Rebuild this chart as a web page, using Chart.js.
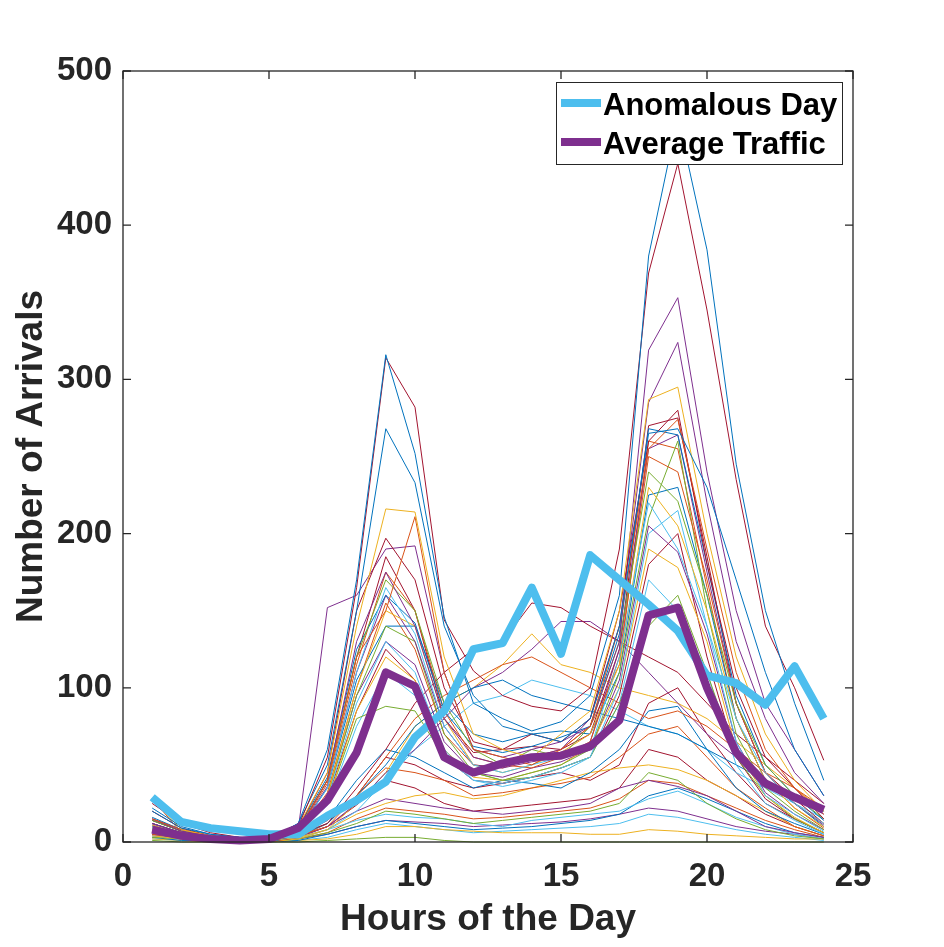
<!DOCTYPE html>
<html>
<head>
<meta charset="utf-8">
<script src="https://cdn.jsdelivr.net/npm/chart.js@4/dist/chart.umd.min.js"></script>
<style>
  body { margin: 0; background: #fff; }
  #wrap { width: 944px; height: 947px; }
</style>
</head>
<body>
<div id="wrap"><canvas id="myChart" width="944" height="947"></canvas></div>
<script>
const hours = [1, 2, 3, 4, 5, 6, 7, 8, 9, 10, 11, 12, 13, 14, 15, 16, 17, 18, 19, 20, 21, 22, 23, 24];

const anomalousDay = [29, 13, 9, 7, 5, 5, 17, 27, 39, 68, 85, 125, 129, 165, 122, 186, 170, 154, 137, 108, 103, 89, 114, 80];
const averageTraffic = [8, 4, 2, 1, 2, 9, 27, 58, 110, 101, 55, 45, 51, 55, 56, 62, 79, 147, 152, 100, 58, 38, 29, 21];

// one row per observed day
const dailyArrivals = [
    [22, 10, 5, 3, 2, 12, 60, 170, 316, 252, 146, 90, 80, 72, 78, 95, 160, 380, 470, 384, 245, 150, 90, 40],
    [25, 12, 6, 3, 2, 10, 55, 165, 314, 282, 144, 111, 95, 88, 85, 100, 190, 369, 440, 345, 235, 140, 100, 53],
    [20, 9, 5, 3, 2, 12, 50, 150, 268, 233, 140, 95, 75, 70, 65, 80, 140, 265, 268, 230, 170, 110, 60, 30],
    [28, 8, 4, 2, 1, 10, 45, 140, 216, 214, 120, 70, 60, 55, 70, 85, 150, 287, 295, 200, 120, 70, 40, 20],
    [15, 8, 4, 2, 1, 8, 40, 120, 150, 211, 110, 60, 55, 50, 60, 75, 140, 255, 274, 190, 110, 60, 35, 18],
    [20, 9, 4, 2, 1, 9, 45, 150, 197, 170, 100, 65, 60, 70, 65, 80, 150, 260, 280, 180, 100, 55, 35, 15],
    [15, 7, 4, 2, 1, 8, 152, 160, 190, 192, 110, 60, 55, 60, 65, 75, 130, 319, 353, 240, 150, 90, 60, 30],
    [12, 6, 3, 2, 1, 7, 40, 130, 175, 140, 80, 55, 50, 55, 60, 80, 140, 285, 324, 220, 130, 80, 45, 25],
    [14, 7, 3, 2, 1, 8, 40, 120, 170, 150, 90, 60, 50, 60, 55, 75, 130, 240, 221, 160, 90, 50, 30, 15],
    [10, 5, 3, 2, 1, 7, 35, 110, 165, 135, 75, 50, 45, 50, 55, 60, 120, 220, 190, 140, 80, 45, 25, 12],
    [16, 8, 4, 2, 1, 9, 42, 125, 160, 142, 85, 62, 58, 62, 68, 75, 135, 268, 264, 180, 95, 50, 30, 14],
    [28, 6, 3, 1, 1, 7, 38, 115, 175, 150, 85, 55, 50, 48, 55, 65, 120, 250, 240, 170, 90, 45, 25, 12],
    [11, 5, 3, 1, 1, 6, 30, 100, 150, 140, 80, 50, 45, 50, 58, 70, 115, 230, 205, 150, 80, 40, 22, 10],
    [12, 6, 3, 2, 1, 7, 36, 110, 160, 130, 75, 50, 48, 52, 55, 65, 125, 255, 264, 175, 90, 45, 25, 11],
    [10, 5, 2, 1, 1, 6, 30, 95, 140, 130, 70, 45, 40, 45, 50, 60, 110, 210, 260, 150, 70, 35, 20, 8],
    [9, 4, 2, 1, 1, 5, 28, 90, 130, 110, 60, 40, 38, 42, 48, 55, 100, 200, 215, 140, 65, 30, 18, 7],
    [14, 7, 3, 2, 1, 8, 40, 120, 185, 150, 80, 58, 60, 62, 60, 70, 125, 270, 275, 185, 90, 45, 28, 12],
    [12, 6, 3, 1, 1, 7, 35, 105, 140, 140, 90, 70, 65, 70, 72, 70, 110, 225, 230, 160, 80, 40, 25, 10],
    [10, 5, 2, 1, 1, 6, 32, 100, 155, 125, 70, 50, 48, 55, 60, 75, 115, 260, 255, 165, 80, 40, 22, 9],
    [8, 4, 2, 1, 1, 5, 25, 85, 120, 105, 60, 42, 40, 45, 50, 62, 100, 190, 178, 130, 60, 30, 16, 6],
    [11, 5, 3, 1, 1, 6, 30, 95, 130, 115, 65, 45, 42, 48, 52, 60, 105, 205, 188, 135, 65, 32, 18, 8],
    [9, 4, 2, 1, 1, 5, 26, 80, 88, 85, 55, 45, 40, 42, 48, 55, 90, 140, 160, 110, 55, 30, 15, 6],
    [8, 4, 2, 1, 1, 5, 24, 75, 110, 95, 55, 40, 36, 40, 45, 55, 90, 170, 150, 110, 50, 25, 14, 5],
    [10, 5, 2, 1, 1, 6, 28, 85, 125, 105, 55, 40, 38, 42, 48, 55, 95, 180, 200, 120, 55, 28, 15, 6],
    [15, 8, 4, 2, 1, 5, 12, 35, 60, 90, 110, 125, 130, 155, 152, 140, 130, 120, 110, 90, 70, 55, 40, 25],
    [12, 6, 3, 2, 1, 4, 10, 30, 55, 80, 95, 105, 115, 120, 110, 100, 90, 80, 85, 75, 60, 45, 35, 22],
    [14, 7, 4, 2, 1, 4, 12, 30, 50, 75, 90, 100, 105, 95, 90, 85, 80, 75, 70, 60, 50, 40, 30, 20],
    [10, 5, 3, 2, 1, 4, 10, 25, 45, 60, 80, 100, 110, 125, 143, 143, 130, 110, 90, 70, 55, 40, 28, 18],
    [12, 6, 3, 2, 1, 3, 8, 25, 45, 75, 90, 100, 115, 135, 115, 110, 100, 95, 90, 80, 65, 50, 35, 20],
    [11, 5, 3, 1, 1, 3, 8, 20, 40, 60, 75, 90, 95, 105, 100, 95, 85, 75, 70, 60, 45, 35, 25, 15],
    [6, 3, 2, 1, 0, 4, 15, 40, 60, 55, 45, 35, 40, 38, 35, 45, 60, 85, 88, 60, 35, 20, 12, 5],
    [5, 3, 1, 1, 0, 3, 12, 30, 48, 45, 40, 30, 32, 35, 38, 42, 55, 70, 75, 55, 35, 22, 10, 4],
    [4, 2, 1, 0, 0, 2, 8, 18, 25, 30, 32, 28, 30, 35, 40, 45, 48, 50, 47, 40, 30, 20, 10, 4],
    [5, 2, 1, 1, 0, 3, 10, 20, 28, 25, 22, 20, 18, 20, 22, 25, 35, 40, 36, 30, 20, 10, 6, 3],
    [3, 2, 1, 0, 0, 2, 6, 12, 20, 18, 15, 12, 14, 16, 18, 20, 25, 45, 40, 25, 15, 8, 4, 2],
    [4, 2, 1, 0, 0, 2, 8, 14, 18, 16, 15, 12, 10, 14, 16, 18, 20, 28, 33, 25, 16, 10, 5, 2],
    [5, 3, 1, 1, 0, 3, 10, 24, 40, 35, 25, 20, 22, 24, 26, 28, 35, 60, 55, 40, 30, 18, 10, 4],
    [3, 1, 1, 0, 0, 1, 5, 10, 14, 12, 10, 8, 9, 10, 12, 14, 18, 30, 35, 28, 20, 12, 6, 3],
    [6, 3, 1, 1, 0, 2, 6, 15, 22, 20, 18, 15, 16, 18, 20, 22, 28, 40, 38, 30, 22, 14, 8, 3],
    [2, 1, 0, 0, 0, 1, 2, 5, 10, 10, 8, 7, 6, 6, 6, 5, 5, 8, 7, 5, 4, 3, 2, 2],
    [4, 2, 1, 0, 0, 2, 5, 10, 14, 13, 12, 10, 11, 12, 13, 15, 18, 22, 20, 15, 10, 7, 5, 2],
    [1, 0, 0, 0, 0, 0, 1, 2, 3, 3, 1, 0, 0, 0, 0, 0, 0, 0, 0, 0, 0, 0, 0, 0],
    [2, 1, 1, 0, 0, 1, 3, 8, 12, 10, 8, 6, 7, 8, 9, 10, 12, 18, 16, 12, 8, 5, 3, 1],
    [8, 4, 2, 1, 0, 4, 14, 30, 55, 50, 40, 35, 38, 42, 45, 40, 50, 90, 100, 70, 45, 25, 15, 6]
];

const xTicks = [0, 5, 10, 15, 20, 25];
const yTicks = [0, 100, 200, 300, 400, 500];

// matlab default colour order
const lineColours = ['#0072BD', '#D95319', '#EDB120', '#7E2F8E', '#77AC30', '#4DBEEE', '#A2142F'];
// which colour each day gets, so the colours mix like the original
const colourOrder = [0, 6, 0, 2, 1, 6, 3, 3, 4, 5, 0, 1, 2, 3, 4, 5, 6, 0, 1, 2, 3, 4, 5, 6,
    6, 1, 0, 3, 2, 5, 0, 1, 2, 3, 4, 5, 6, 0, 1, 2, 3, 4, 5, 6];

const axisColour = '#262626';
const tickFont = { family: '"Liberation Sans", Arial, sans-serif', size: 33, weight: 'bold' };
const titleFont = { family: '"Liberation Sans", Arial, sans-serif', size: 37, weight: 'bold' };

function toPoints(values) {
    return values.map((v, i) => ({ x: hours[i], y: v }));
}

const datasets = [
    {
        label: 'Anomalous Day',
        data: toPoints(anomalousDay),
        borderColor: '#4DBEEE',
        backgroundColor: '#4DBEEE',
        borderWidth: 8,
        order: 1,
        clip: 12
    },
    {
        label: 'Average Traffic',
        data: toPoints(averageTraffic),
        borderColor: '#7E2F8E',
        backgroundColor: '#7E2F8E',
        borderWidth: 8,
        order: 0,
        clip: 12
    }
];

dailyArrivals.forEach((day, i) => {
    const c = lineColours[colourOrder[i % colourOrder.length]];
    datasets.push({
        label: 'day' + (i + 1),
        data: toPoints(day),
        borderColor: c,
        backgroundColor: c,
        borderWidth: 1,
        order: 2,
        clip: 2
    });
});

// box, inward ticks and the legend in the top right corner
const matlabAxes = {
    id: 'matlabAxes',
    afterDraw(chart) {
        const ctx = chart.ctx;
        const a = chart.chartArea;
        const xs = chart.scales.x;
        const ys = chart.scales.y;
        const tl = 8;
        ctx.save();
        ctx.strokeStyle = axisColour;
        ctx.lineWidth = 1.3;
        ctx.strokeRect(a.left, a.top, a.right - a.left, a.bottom - a.top);
        ctx.beginPath();
        xTicks.forEach(t => {
            const px = xs.getPixelForValue(t);
            ctx.moveTo(px, a.bottom); ctx.lineTo(px, a.bottom - tl);
            ctx.moveTo(px, a.top); ctx.lineTo(px, a.top + tl);
        });
        yTicks.forEach(t => {
            const py = ys.getPixelForValue(t);
            ctx.moveTo(a.left, py); ctx.lineTo(a.left + tl, py);
            ctx.moveTo(a.right, py); ctx.lineTo(a.right - tl, py);
        });
        ctx.stroke();

        // legend
        const bx = 556, by = 82, bw = 286, bh = 82;
        ctx.fillStyle = '#fff';
        ctx.fillRect(bx, by, bw, bh);
        ctx.lineWidth = 1;
        ctx.strokeRect(bx + 0.5, by + 0.5, bw, bh);
        const items = [datasets[0], datasets[1]];
        const rows = [103, 142];
        ctx.font = 'bold 31px "Liberation Sans", Arial, sans-serif';
        ctx.textBaseline = 'middle';
        items.forEach((d, i) => {
            ctx.strokeStyle = d.borderColor;
            ctx.lineWidth = 8;
            ctx.beginPath();
            ctx.moveTo(bx + 5, rows[i]);
            ctx.lineTo(bx + 45, rows[i]);
            ctx.stroke();
            ctx.fillStyle = '#000';
            ctx.fillText(d.label, bx + 47, rows[i] + 3);
        });
        ctx.restore();
    }
};

const config = {
    type: 'line',
    data: { datasets: datasets },
    options: {
        responsive: false,
        animation: false,
        devicePixelRatio: 1,
        layout: { padding: { top: 71, right: 91, left: 0, bottom: 0 } },
        elements: {
            point: { radius: 0, hoverRadius: 0 },
            line: { tension: 0, borderJoinStyle: 'round', borderCapStyle: 'butt' }
        },
        scales: {
            x: {
                type: 'linear',
                min: 0,
                max: 25,
                afterBuildTicks: scale => { scale.ticks = xTicks.map(v => ({ value: v })); },
                afterFit: scale => { scale.height = 105; },
                grid: { display: false, drawTicks: false },
                border: { display: false },
                ticks: { color: axisColour, font: tickFont, padding: 15, autoSkip: false, maxRotation: 0 },
                title: { display: true, text: 'Hours of the Day', color: axisColour, font: titleFont, padding: { top: 0, bottom: 5 } }
            },
            y: {
                min: 0,
                max: 500,
                afterBuildTicks: scale => { scale.ticks = yTicks.map(v => ({ value: v })); },
                afterFit: scale => { scale.width = 123; },
                grid: { display: false, drawTicks: false },
                border: { display: false },
                ticks: { color: axisColour, font: tickFont, padding: 11 },
                title: { display: true, text: 'Number of Arrivals', color: axisColour, font: titleFont, padding: { top: 10, bottom: 0 } }
            }
        },
        plugins: {
            legend: { display: false },
            tooltip: { enabled: false }
        }
    },
    plugins: [matlabAxes]
};

const myChart = new Chart(document.getElementById('myChart'), config);
</script>
</body>
</html>
